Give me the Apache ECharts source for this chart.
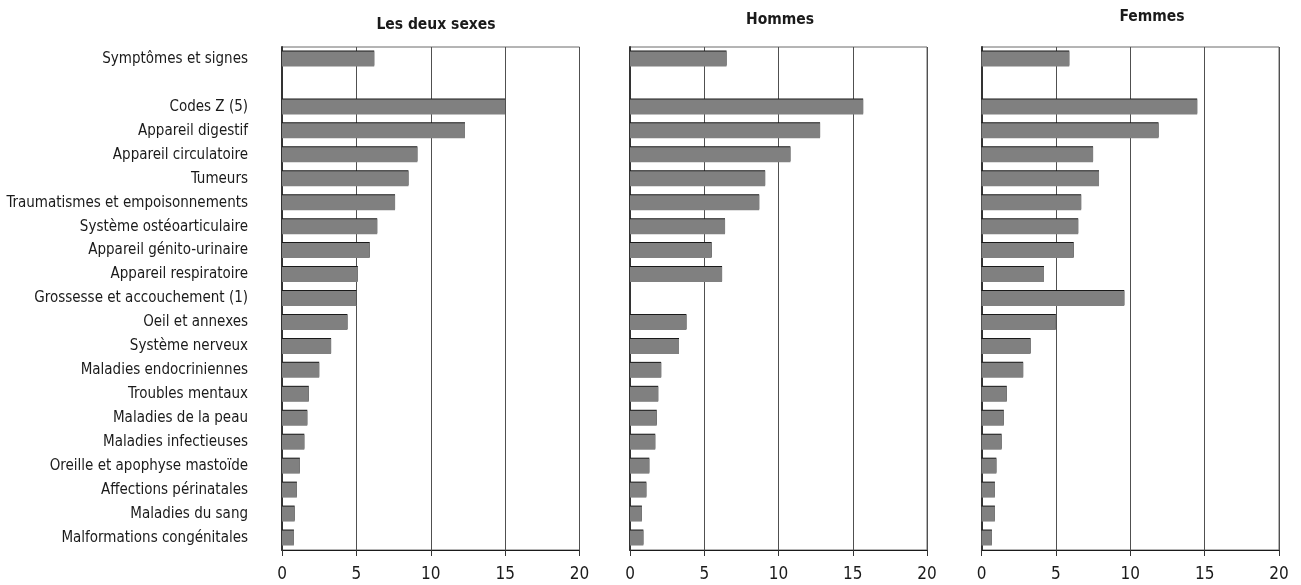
<!DOCTYPE html>
<html>
<head>
<meta charset="utf-8">
<script src="https://cdn.jsdelivr.net/npm/echarts@6/dist/echarts.min.js"></script>
<style>
  html, body { margin: 0; padding: 0; background: #fff; }
  #chart { width: 1301px; height: 585px; }
</style>
</head>
<body>
<div id="chart"></div>
<script>
// Categories (top to bottom); the empty entry is a spacer row
const categories = [
  'Symptômes et signes',
  '',
  'Codes Z (5)',
  'Appareil digestif',
  'Appareil circulatoire',
  'Tumeurs',
  'Traumatismes et empoisonnements',
  'Système ostéoarticulaire',
  'Appareil génito-urinaire',
  'Appareil respiratoire',
  'Grossesse et accouchement (1)',
  'Oeil et annexes',
  'Système nerveux',
  'Maladies endocriniennes',
  'Troubles mentaux',
  'Maladies de la peau',
  'Maladies infectieuses',
  'Oreille et apophyse mastoïde',
  'Affections périnatales',
  'Maladies du sang',
  'Malformations congénitales'
];

const panelTitles = ['Les deux sexes', 'Hommes', 'Femmes'];

const deuxSexes = [6.2, null, 15.0, 12.3, 9.1, 8.5, 7.6, 6.4, 5.9, 5.1, 5.0, 4.4, 3.3, 2.5, 1.8, 1.7, 1.5, 1.2, 1.0, 0.85, 0.8];
const hommes    = [6.5, null, 15.7, 12.8, 10.8, 9.1, 8.7, 6.4, 5.5, 6.2, null, 3.8, 3.3, 2.1, 1.9, 1.8, 1.7, 1.3, 1.1, 0.8, 0.9];
const femmes    = [5.9, null, 14.5, 11.9, 7.5, 7.9, 6.7, 6.5, 6.2, 4.2, 9.6, 5.0, 3.3, 2.8, 1.7, 1.5, 1.35, 1.0, 0.9, 0.9, 0.7];

const xTicks = [0, 5, 10, 15, 20];

const seriesValues = [deuxSexes, hommes, femmes];

const FONT = '"DejaVu Sans Condensed", "Liberation Sans Narrow", Arial, sans-serif';

// Plot areas for the three panels
const grids = [
  { left: 282, width: 297.5, top: 47, bottom: 35 },
  { left: 630, width: 297,   top: 47, bottom: 35 },
  { left: 981.5, width: 297.5, top: 47, bottom: 35 }
];

const titlePos = [
  { x: 431, y: 20 },
  { x: 775, y: 15 },
  { x: 1147, y: 12 }
];

const option = {
  animation: false,
  backgroundColor: '#ffffff',
  title: panelTitles.map((t, i) => ({
    text: t,
    left: titlePos[i].x,
    top: titlePos[i].y,
    textAlign: 'center',
    textVerticalAlign: 'middle',
    textStyle: { fontFamily: FONT, fontWeight: 'bold', fontSize: 15.5, color: '#1a1a1a' }
  })),
  grid: grids.map(g => Object.assign({
    show: true,
    borderColor: '#6a6a6a',
    borderWidth: 1,
    backgroundColor: 'transparent',
    containLabel: false,
    outerBoundsMode: 'none'
  }, g)),
  xAxis: grids.map((g, i) => ({
    type: 'value',
    gridIndex: i,
    min: xTicks[0],
    max: xTicks[xTicks.length - 1],
    interval: xTicks[1] - xTicks[0],
    axisLine: { show: true, lineStyle: { color: '#1a1a1a', width: 1.2 } },
    axisTick: { show: true, length: 6, lineStyle: { color: '#333' } },
    splitLine: { show: true, lineStyle: { color: '#505050', width: 1 } },
    axisLabel: { margin: 16, fontFamily: FONT, fontSize: 17, color: '#1a1a1a' }
  })),
  yAxis: grids.map((g, i) => ({
    type: 'category',
    gridIndex: i,
    data: categories,
    inverse: true,
    axisLine: { show: true, lineStyle: { color: '#333', width: 2 } },
    axisTick: { show: false },
    splitLine: { show: false },
    axisLabel: {
      show: i === 0,
      margin: 34,
      padding: [5, 0, 0, 0],
      fontFamily: FONT,
      fontSize: 15,
      color: '#1a1a1a'
    }
  })),
  series: seriesValues.map((vals, i) => ({
    type: 'bar',
    xAxisIndex: i,
    yAxisIndex: i,
    data: vals,
    barWidth: 15,
    itemStyle: {
      color: '#808080',
      shadowColor: '#1a1a1a',
      shadowOffsetY: -1,
      shadowBlur: 0
    }
  }))
};

const chart = echarts.init(document.getElementById('chart'), null, { renderer: 'canvas' });
chart.setOption(option);
</script>
</body>
</html>
